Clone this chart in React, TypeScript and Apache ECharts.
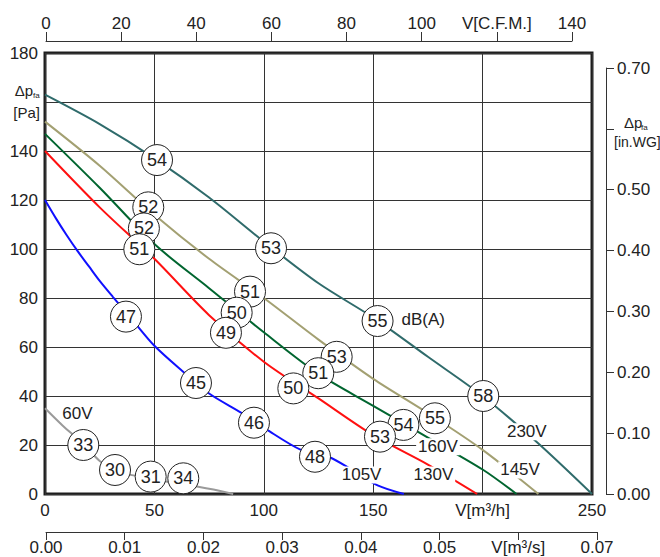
import React, { useEffect, useRef } from "react";
import * as echarts from "echarts";

const FONT = "'Liberation Sans', Arial, Helvetica, sans-serif";

// Flow [m3/h], pressure [Pa]
const curve230V = [[0, 163], [25, 151], [50, 137], [75, 121], [100, 103], [125, 86], [150, 72], [175, 56], [200, 40], [225, 21], [250, 0]];
const curve145V = [[0, 152], [25, 134], [50, 114], [75, 96], [100, 80], [125, 63], [150, 47], [175, 33], [200, 18], [225.5, 0]];
const curve160V = [[0, 147], [25, 125], [50, 102], [75, 84], [100, 66], [125, 49], [150, 36], [175, 23], [200, 10], [215.5, 0]];
const curve130V = [[0, 140], [25, 117], [50, 96], [75, 73], [100, 54], [125, 39], [150, 24], [175, 12], [197.5, 0]];
const curve105V = [[0, 120], [5, 112.5], [10, 105.5], [15, 99], [20, 93], [25, 87], [31, 80.5], [40, 71], [50, 60.5], [63, 50], [75, 41], [90, 33], [101, 26.5], [117, 18], [130, 15], [140, 10], [152, 3.5], [164, 0]];
const curve60V = [[0, 35], [8, 28], [17.5, 20.5], [25, 13.5], [32, 10], [38, 8], [48, 6.5], [56, 5], [63, 4], [70, 3], [77, 1.8], [86, 0]];

// Sound level markers [flow, pressure, dB(A)]
const soundMarks = [
  [51.2, 136.3, "54"], [47.2, 117, "52"], [45.2, 108.4, "52"], [43.1, 99.9, "51"],
  [103.3, 100.3, "53"], [37, 72.4, "47"], [93.7, 82.6, "51"], [87.6, 74, "50"],
  [82.7, 65.8, "49"], [152, 70.6, "55"], [133.3, 56, "53"], [124.9, 49.3, "51"],
  [113.5, 43.1, "50"], [69, 45.3, "45"], [95.5, 29.1, "46"], [123.4, 15.2, "48"],
  [200.3, 40, "58"], [178.2, 30.9, "55"], [163.8, 28.2, "54"], [153.1, 23.4, "53"],
  [17.5, 20, "33"], [32, 9.8, "30"], [48.3, 7.1, "31"], [63.2, 6.4, "34"],
];

// Curve / unit labels [flow, pressure, text]
const textMarks = [
  [14.8, 32.9, "60V"], [144.7, 7.8, "105V"], [177.5, 7.8, "130V"],
  [179.6, 19.3, "160V"], [217.1, 9.8, "145V"], [220.2, 25.4, "230V"],
  [172.9, 71.3, "dB(A)"],
];

const curves = [
  { name: "230V", data: curve230V, color: "#2f6b6b" },
  { name: "145V", data: curve145V, color: "#a3a072" },
  { name: "160V", data: curve160V, color: "#00652f" },
  { name: "130V", data: curve130V, color: "#ff1010" },
  { name: "105V", data: curve105V, color: "#1010ff" },
  { name: "60V", data: curve60V, color: "#9a9a9a" },
];

const INK = "#222";

export default function App() {
  const ref = useRef<HTMLDivElement>(null);
  useEffect(() => {
    const chart = echarts.init(ref.current!, undefined, { renderer: "svg" });
    const axisLbl = { fontSize: 17, color: INK, fontFamily: FONT };
    const option: any = {
      animation: false,
      textStyle: { fontFamily: FONT },
      grid: [
        { left: 45, top: 53, width: 547, height: 441, show: true, borderColor: "#1e1e1e", borderWidth: 3 },
        { left: 46, top: 41, width: 526, height: 100 },
        { left: 46, top: 100, width: 551, height: 432 },
        { left: 600, top: 68, width: 6, height: 426 },
      ],
      xAxis: [
        {
          gridIndex: 0, type: "value", min: 0, max: 250, interval: 50,
          axisLine: { show: false }, axisTick: { show: false },
          splitLine: { show: true, lineStyle: { color: "#333", width: 1 } },
          axisLabel: { ...axisLbl, margin: 8, formatter: (v: number) => (v === 200 ? "V[m³/h]" : String(v)) },
        },
        {
          gridIndex: 1, type: "value", position: "top", min: 0, max: 140, interval: 20,
          axisLine: { show: true, onZero: false, lineStyle: { color: "#333", width: 1 } },
          axisTick: { show: true, length: 9, lineStyle: { color: "#333", width: 1 } },
          splitLine: { show: false },
          axisLabel: { ...axisLbl, margin: 9, formatter: (v: number) => (v === 120 ? "V[C.F.M.]" : String(v)) },
        },
        {
          gridIndex: 2, type: "value", position: "bottom", min: 0, max: 0.07, interval: 0.01,
          axisLine: { show: true, onZero: false, lineStyle: { color: "#333", width: 1 } },
          axisTick: { show: true, length: 8, lineStyle: { color: "#333", width: 1 } },
          splitLine: { show: false },
          axisLabel: { ...axisLbl, margin: 7, formatter: (v: number) => (Math.abs(v - 0.06) < 1e-9 ? "V[m³/s]" : v.toFixed(2)) },
        },
        { gridIndex: 3, type: "value", show: false, min: 0, max: 1 },
      ],
      yAxis: [
        {
          gridIndex: 0, type: "value", min: 0, max: 180, interval: 20,
          axisLine: { show: false }, axisTick: { show: false },
          splitLine: { show: true, lineStyle: { color: "#333", width: 1 } },
          axisLabel: { ...axisLbl, margin: 7, formatter: (v: number) => (v === 160 ? "" : String(v)) },
        },
        { gridIndex: 1, type: "value", show: false },
        { gridIndex: 2, type: "value", show: false },
        {
          gridIndex: 3, type: "value", position: "right", min: 0, max: 0.7, interval: 0.1,
          axisLine: { show: true, onZero: false, lineStyle: { color: "#333", width: 1 } },
          axisTick: { show: true, length: 8, lineStyle: { color: "#333", width: 1 } },
          splitLine: { show: false },
          axisLabel: { ...axisLbl, margin: 11, formatter: (v: number) => (Math.abs(v - 0.6) < 1e-9 ? "" : v.toFixed(2)) },
        },
      ],
      graphic: [
        { type: "text", style: { text: "Δp", x: 33, y: 90, align: "right", verticalAlign: "middle", font: `15px ${FONT}`, fill: INK } },
        { type: "text", style: { text: "fa", x: 33, y: 95, align: "left", verticalAlign: "middle", font: `8px ${FONT}`, fill: INK } },
        { type: "text", style: { text: "[Pa]", x: 40, y: 112, align: "right", verticalAlign: "middle", font: `15px ${FONT}`, fill: INK } },
        { type: "text", style: { text: "Δp", x: 624, y: 122, align: "left", verticalAlign: "middle", font: `15px ${FONT}`, fill: INK } },
        { type: "text", style: { text: "fa", x: 641, y: 127, align: "left", verticalAlign: "middle", font: `8px ${FONT}`, fill: INK } },
        { type: "text", style: { text: "[in.WG]", x: 614, y: 142, align: "left", verticalAlign: "middle", font: `14px ${FONT}`, fill: INK } },
      ],
      series: [
        ...curves.map((c) => ({
          type: "line", name: c.name, xAxisIndex: 0, yAxisIndex: 0,
          data: c.data, smooth: 0.3, symbol: "none", z: 2,
          lineStyle: { color: c.color, width: 2 },
        })),
        {
          type: "scatter", xAxisIndex: 0, yAxisIndex: 0, z: 5,
          data: textMarks, symbol: "circle", symbolSize: 2,
          itemStyle: { color: "transparent", opacity: 1 },
          label: {
            show: true, position: "inside", formatter: (p: any) => p.value[2],
            fontSize: 17, color: INK, fontFamily: FONT, backgroundColor: "#fff", padding: [0, 2],
          },
        },
        {
          type: "scatter", xAxisIndex: 0, yAxisIndex: 0, z: 6,
          data: soundMarks, symbol: "circle", symbolSize: 31,
          itemStyle: { color: "#fff", borderColor: "#222", borderWidth: 1, opacity: 1 },
          label: {
            show: true, position: "inside", formatter: (p: any) => p.value[2],
            fontSize: 18, color: INK, fontFamily: FONT,
          },
        },
      ],
    };
    chart.setOption(option);
    return () => chart.dispose();
  }, []);
  return <div ref={ref} style={{ position: "absolute", left: 0, top: 0, width: 660, height: 557, background: "#fff" }} />;
}
